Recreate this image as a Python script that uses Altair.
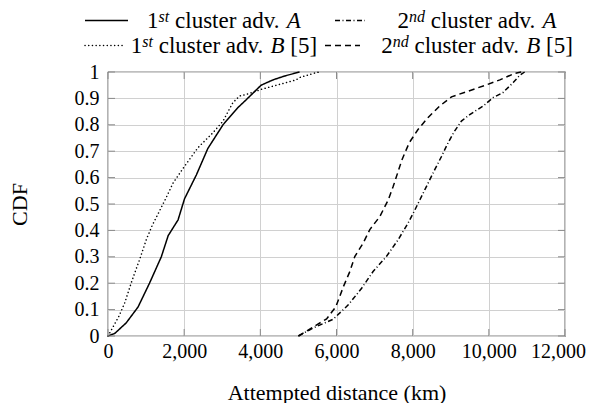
import altair as alt
import pandas as pd

# ---------------- data ----------------
x_1A = [0, 180, 480, 790, 1090, 1400, 1580, 1840, 2010, 2320, 2620, 3020, 3410, 3630, 4020, 4330, 4640, 5030]
y_1A = [0, 0.01, 0.05, 0.11, 0.20, 0.30, 0.38, 0.44, 0.52, 0.61, 0.71, 0.80, 0.865, 0.895, 0.95, 0.97, 0.985, 1.0]

x_2A = [5000, 5380, 5910, 6310, 6660, 6960, 7310, 7620, 7880, 8060, 8190, 8340, 8580, 8760, 8930, 9100,
        9280, 9500, 9850, 10110, 10370, 10640, 10810, 10940]
y_2A = [0, 0.03, 0.063, 0.118, 0.181, 0.244, 0.301, 0.365, 0.428, 0.478, 0.516, 0.56, 0.63, 0.681, 0.732, 0.776,
        0.814, 0.839, 0.871, 0.903, 0.922, 0.96, 0.987, 1.0]

x_1B = [0, 115, 290, 440, 630, 830, 1010, 1165, 1340, 1530, 1710, 2010, 2360, 2755, 3020, 3280, 3455, 3630,
        4020, 4500, 4940, 5030, 5470, 5600]
y_1B = [0, 0.03, 0.076, 0.126, 0.21, 0.29, 0.367, 0.42, 0.47, 0.525, 0.58, 0.643, 0.713, 0.77, 0.814, 0.884,
        0.909, 0.915, 0.934, 0.953, 0.97, 0.979, 0.998, 1.0]

x_2B = [5000, 5400, 5740, 5980, 6190, 6350, 6480, 6700, 6875, 7140, 7360, 7490, 7720, 7910, 8140, 8400, 8710,
        9020, 9410, 9890, 10290, 10680, 10850]
y_2B = [0, 0.035, 0.065, 0.11, 0.19, 0.244, 0.301, 0.352, 0.403, 0.453, 0.516, 0.567, 0.668, 0.732, 0.782,
        0.827, 0.871, 0.906, 0.925, 0.949, 0.97, 0.995, 1.0]

series_ids = ["1A", "2A", "1B", "2B"]
x_ticks = [0, 2000, 4000, 6000, 8000, 10000, 12000]
y_ticks = [0, 0.1, 0.2, 0.3, 0.4, 0.5, 0.6, 0.7, 0.8, 0.9, 1]

# legend label parts: ordinal, superscript, body, italic letter, suffix
leg_ord = ["1", "2", "1", "2"]
leg_sup = ["st", "nd", "st", "nd"]
leg_body = ["cluster adv.", "cluster adv.", "cluster adv.", "cluster adv."]
leg_letter = ["A", "A", "B", "B"]
leg_suffix = ["", "", "[5]", "[5]"]

x_title = "Attempted distance (km)"
y_title = "CDF"

# ---------------- build table ----------------
rows = []
for sid, xs_, ys_ in zip(series_ids, [x_1A, x_2A, x_1B, x_2B], [y_1A, y_2A, y_1B, y_2B]):
    for i, (a, b) in enumerate(zip(xs_, ys_)):
        rows.append({"series": sid, "x": a, "y": b, "order": i})
df = pd.DataFrame(rows)

W, H = 457, 264
SERIF = "Liberation Serif"


def xsc():
    return alt.Scale(domain=[0, 12000], nice=False, zero=False)


def ysc():
    return alt.Scale(domain=[0, 1], nice=False, zero=False)


styles = {
    "1A": dict(strokeDash=[1, 0], strokeCap="butt"),
    "2A": dict(strokeDash=[5, 2.5, 1, 2.5], strokeCap="butt"),
    "1B": dict(strokeDash=[0.1, 3.6], strokeCap="round"),
    "2B": dict(strokeDash=[6, 4], strokeCap="butt"),
}

x_axis = alt.Axis(values=x_ticks, format=",.0f", title=x_title, grid=True, gridColor="#d0d0d0",
                  ticks=False, domain=False, labelFont=SERIF, labelFontSize=20, labelColor="black",
                  labelOverlap=False, labelBound=False, labelFlush=False,
                  labelOffset={"condition": {"test": "datum.value >= 12000", "value": -7}, "value": 0},
                  labelPadding=5, titleFont=SERIF, titleFontSize=22, titleFontWeight="normal",
                  titleColor="black", titlePadding=21)
y_axis = alt.Axis(values=y_ticks, format="~g", title=y_title, grid=True, gridColor="#d0d0d0",
                  ticks=False, domain=False, labelFont=SERIF, labelFontSize=20, labelColor="black",
                  labelOverlap=False, labelBound=False, labelFlush=False,
                  labelPadding=9, titleFont=SERIF, titleFontSize=22, titleFontWeight="normal",
                  titleColor="black", titlePadding=43)

layers = []

# axes / grid layer
layers.append(
    alt.Chart(pd.DataFrame({"x": [0, 12000], "y": [0, 1]})).mark_point(opacity=0).encode(
        x=alt.X("x:Q", scale=xsc(), axis=x_axis),
        y=alt.Y("y:Q", scale=ysc(), axis=y_axis),
    )
)

for sid in series_ids:
    layers.append(
        alt.Chart(df).transform_filter(alt.datum.series == sid)
        .mark_line(color="black", strokeWidth=1.5, **styles[sid])
        .encode(x=alt.X("x:Q", scale=xsc(), axis=None),
                y=alt.Y("y:Q", scale=ysc(), axis=None),
                order="order:Q")
    )

# inward ticks (pgfplots style)
tick_col = "#8a8a8a"
tx = pd.DataFrame({"x": x_ticks})
ty = pd.DataFrame({"y": y_ticks})
layers.append(alt.Chart(tx).mark_rule(color=tick_col, strokeWidth=1).encode(
    x=alt.X("x:Q", scale=xsc(), axis=None), y=alt.value(H), y2=alt.value(H - 7)))
layers.append(alt.Chart(tx).mark_rule(color=tick_col, strokeWidth=1).encode(
    x=alt.X("x:Q", scale=xsc(), axis=None), y=alt.value(0), y2=alt.value(7)))
layers.append(alt.Chart(ty).mark_rule(color=tick_col, strokeWidth=1).encode(
    y=alt.Y("y:Q", scale=ysc(), axis=None), x=alt.value(0), x2=alt.value(7)))
layers.append(alt.Chart(ty).mark_rule(color=tick_col, strokeWidth=1).encode(
    y=alt.Y("y:Q", scale=ysc(), axis=None), x=alt.value(W), x2=alt.value(W - 7)))

# ---------------- custom legend (pgfplots style, centred cells) ----------------
ROMAN = {' ': 250, '1': 500, '2': 500, '5': 500, '[': 333, ']': 333, '.': 250, 'a': 444, 'c': 444, 'd': 500,
         'e': 444, 'l': 278, 'r': 333, 's': 389, 't': 278, 'u': 500, 'v': 500}
ITALIC = {'s': 389, 't': 278, 'n': 500, 'd': 500, 'A': 611, 'B': 611}


def tw(s, size, table):
    return sum(table.get(c, 500) for c in s) / 1000 * size


F = 23
SUP = 16


def txt(s, x, y, size, italic=False):
    return alt.Chart(pd.DataFrame({"t": [s]})).mark_text(
        align="left", baseline="alphabetic", font=SERIF, fontSize=size,
        fontStyle="italic" if italic else "normal", color="black").encode(
        x=alt.value(x), y=alt.value(y), text="t:N")


col_center = [116, 369]
row_base = [-44, -19]
row_sym = [-51.5, -26.5]
sym_x = [[(-23, 20), (227, 257)], [(-23, 15), (217, 252)]]
space = 0.25 * F

for k in range(4):
    r, c = divmod(k, 2)
    parts = []  # (text, x-width, size, italic, dy)
    parts.append((leg_ord[k], tw(leg_ord[k], F, ROMAN), F, False, 0))
    parts.append((leg_sup[k], tw(leg_sup[k], SUP, ITALIC), SUP, True, -6.5))
    parts.append((None, space, 0, False, 0))
    parts.append((leg_body[k], tw(leg_body[k], F, ROMAN), F, False, 0))
    parts.append((None, space, 0, False, 0))
    parts.append((leg_letter[k], tw(leg_letter[k], F, ITALIC), F, True, 0))
    if leg_suffix[k]:
        parts.append((None, space, 0, False, 0))
        parts.append((leg_suffix[k], tw(leg_suffix[k], F, ROMAN), F, False, 0))
    total = sum(p[1] for p in parts)
    x0 = col_center[c] - total / 2
    for s, w, size, it, dy in parts:
        if s:
            layers.append(txt(s, x0, row_base[r] + dy, size, it))
        x0 += w
    a, b = sym_x[r][c]
    layers.append(alt.Chart(pd.DataFrame({"s": [k]})).mark_rule(
        color="black", strokeWidth=1.5, **styles[series_ids[k]]).encode(
        x=alt.value(a), x2=alt.value(b), y=alt.value(row_sym[r])))

chart = alt.layer(*layers).properties(
    width=W, height=H,
    padding={"left": 100, "top": 64, "right": 21, "bottom": 67},
    autosize=alt.AutoSizeParams(type="none"),
).resolve_scale(x="independent", y="independent").resolve_axis(
    x="independent", y="independent"
).configure_view(stroke="black", strokeWidth=1.2)

chart.save("out.html", embed_options={"renderer": "svg", "actions": False})
